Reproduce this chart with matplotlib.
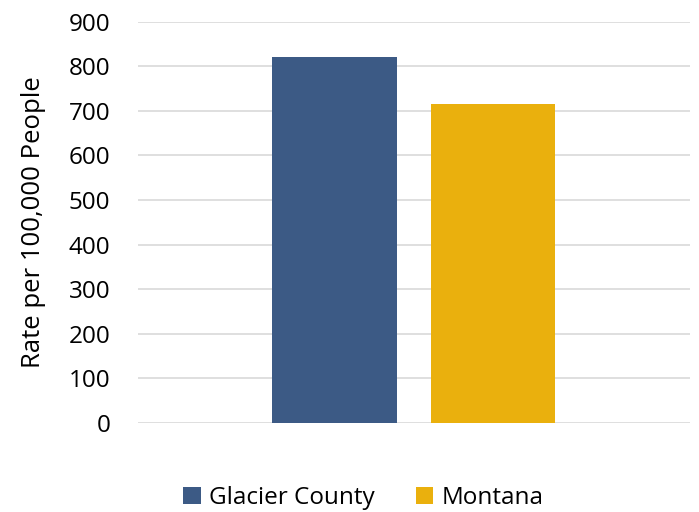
import numpy as np
import matplotlib.pyplot as plt

plt.rcParams['font.family'] = ['Open Sans', 'DejaVu Sans']

series = ["Glacier County", "Montana"]
rates = [820, 716]
colors = ["#3C5A85", "#EAB00D"]
yticks = [0, 100, 200, 300, 400, 500, 600, 700, 800, 900]

fig = plt.figure(figsize=(6.99, 5.12), dpi=100)
ax = fig.add_axes([0.1974, 0.174, 0.7896, 0.784])

width = 0.2264
gap = 0.06
offsets = np.array([-1, 1]) * (width + gap) / 2
for off, name, val, c in zip(offsets, series, rates, colors):
    ax.bar(off, val, width=width, color=c, label=name, zorder=3)

ax.set_xlim(-0.5, 0.5)
ax.set_ylim(0, 900)
ax.set_yticks(yticks)
ax.set_xticks([])
ax.yaxis.grid(True, color="#d9d9d9", linewidth=1.2, zorder=0)
for s in ["top", "right", "left", "bottom"]:
    ax.spines[s].set_visible(False)
ax.tick_params(axis="y", length=0, pad=20, labelsize=17.5)
ax.set_ylabel("Rate per 100,000 People", fontsize=18.5, labelpad=16)

fig.legend(loc="center", bbox_to_anchor=(0.52, 0.028), ncol=2, frameon=False,
           fontsize=17.5, handlelength=0.7, handleheight=0.7,
           handletextpad=0.35, columnspacing=1.7)

fig.savefig("out.png", dpi=100)
